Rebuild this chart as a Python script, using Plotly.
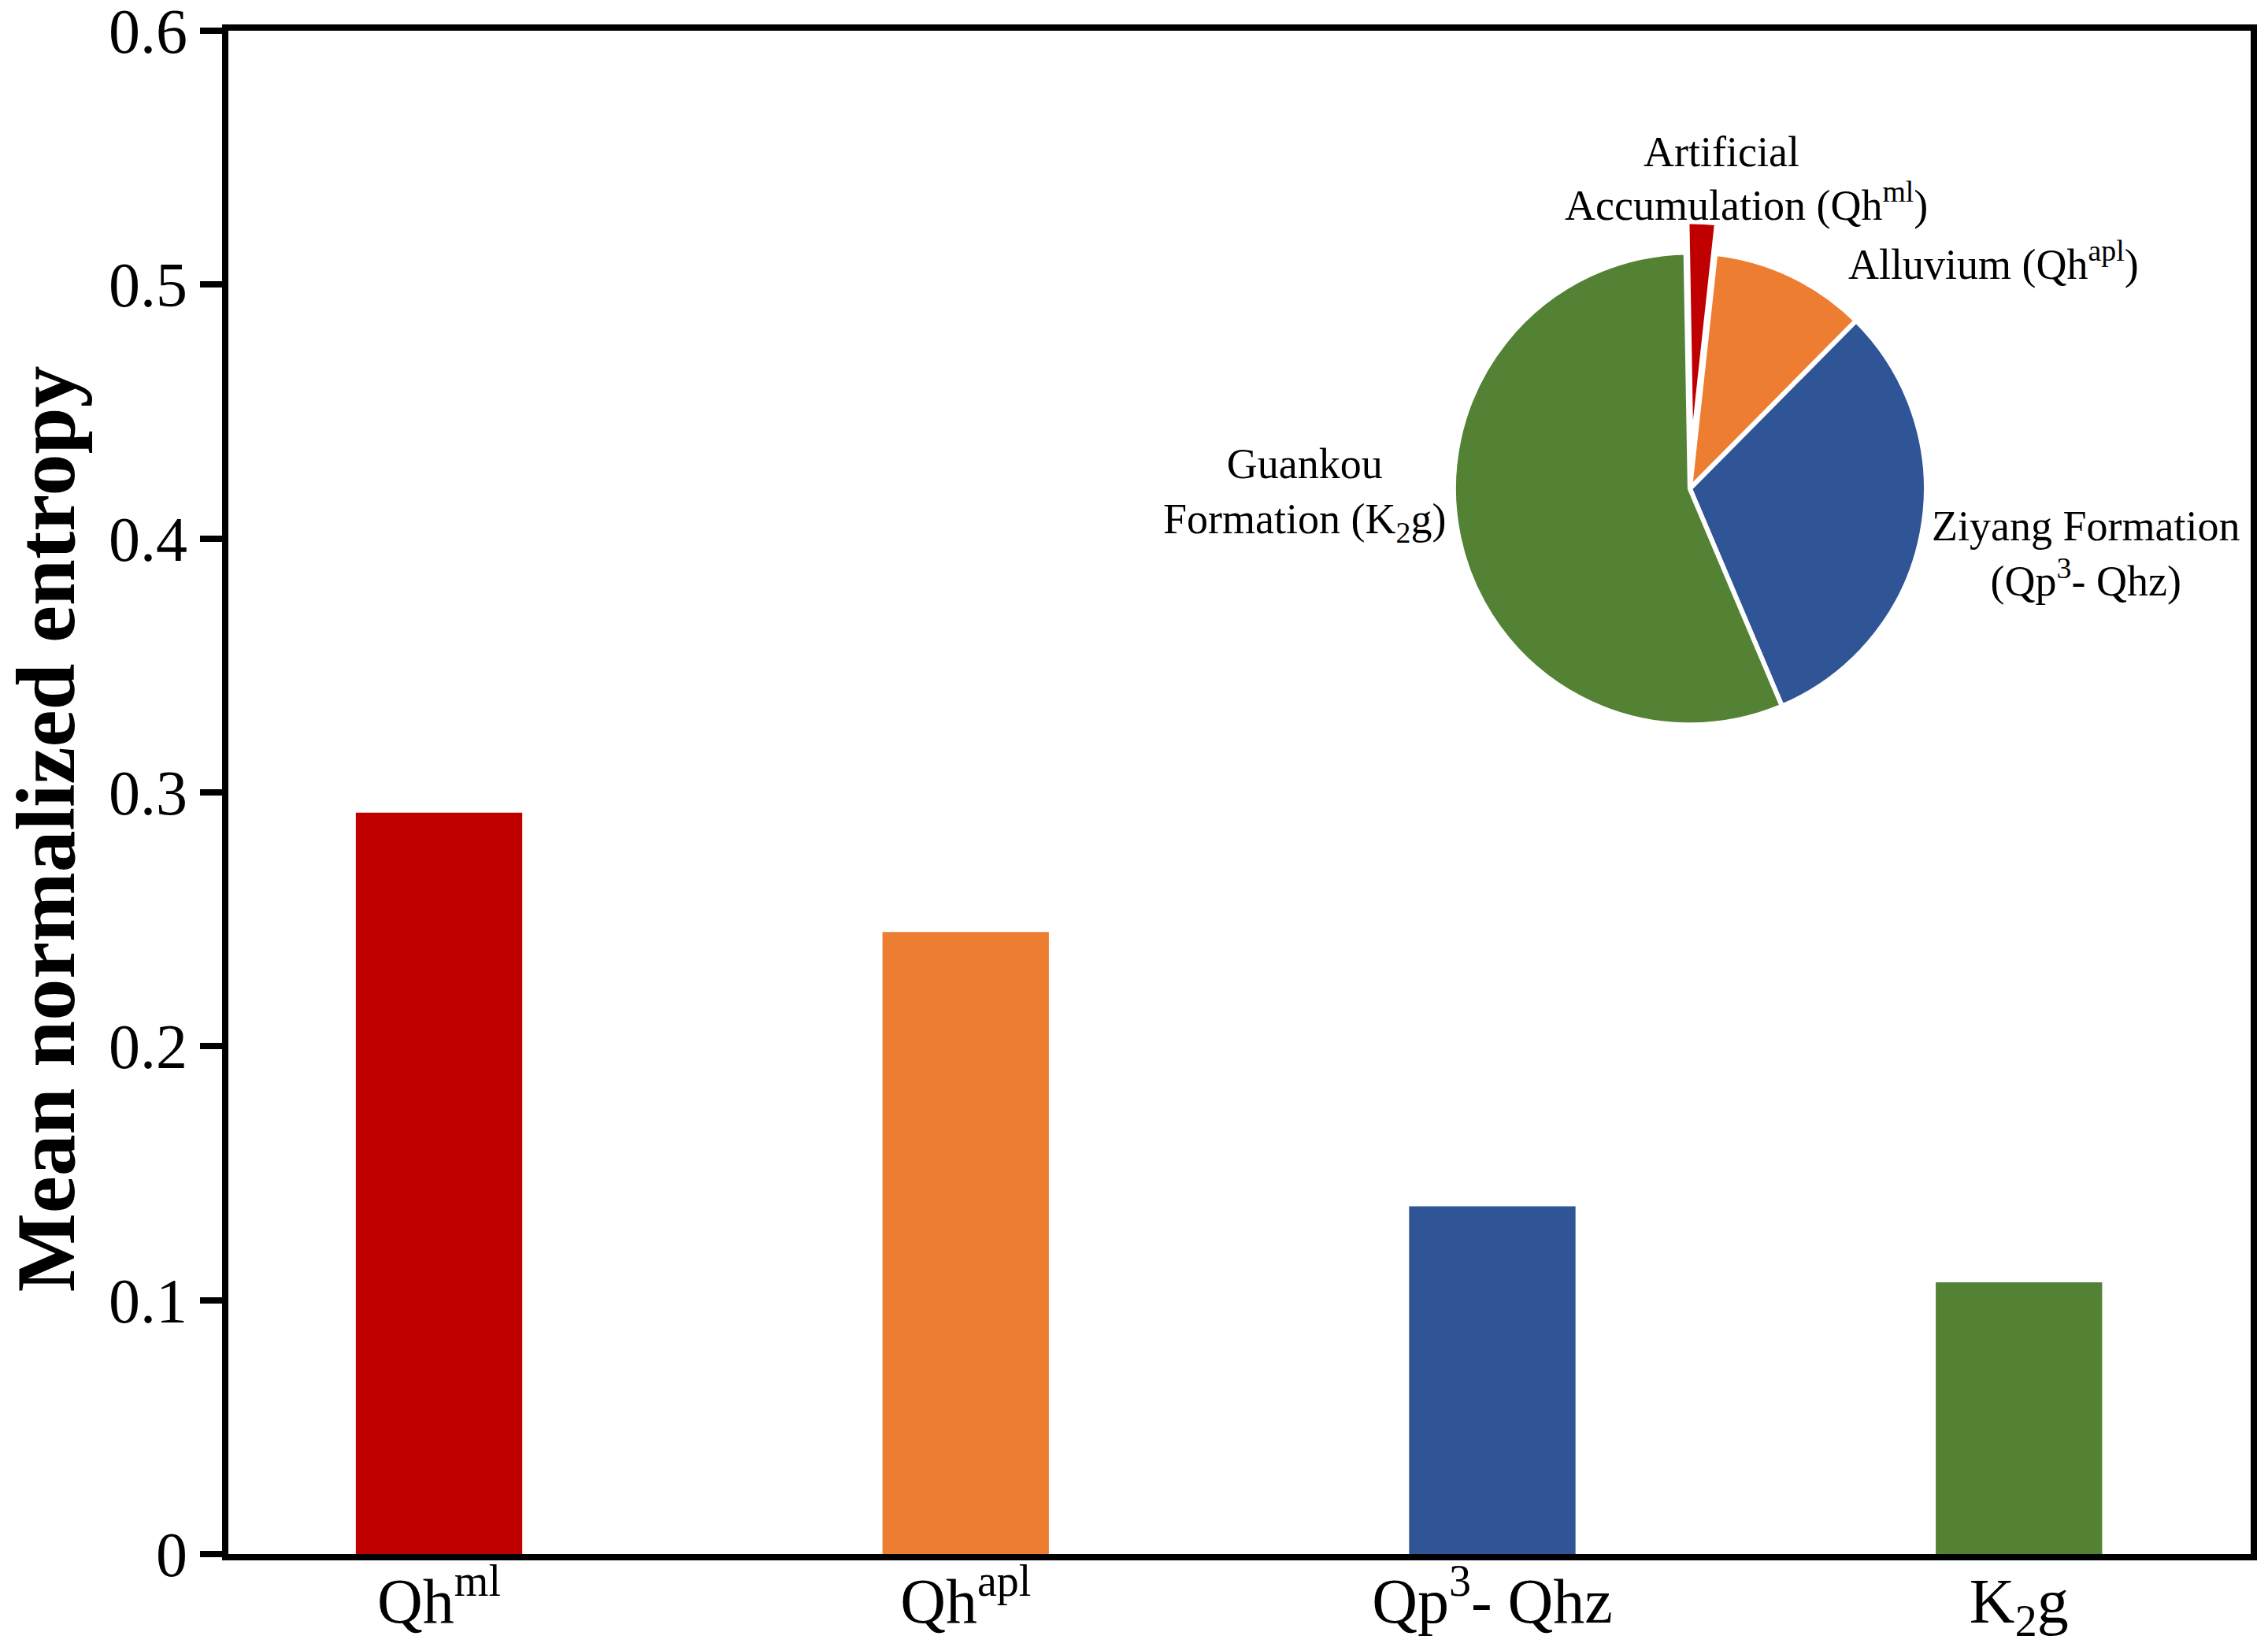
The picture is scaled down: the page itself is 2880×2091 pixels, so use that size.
import plotly.graph_objects as go

# ---- data ----
categories = ["Qh_ml", "Qh_apl", "Qp3_Qhz", "K2g"]
tick_labels = ["Qh<sup>ml</sup>", "Qh<sup>apl</sup>", "Qp<sup>3</sup>- Qhz", "K<sub>2</sub>g"]
entropy_values = [0.292, 0.245, 0.137, 0.107]
bar_colors = ["#C00000", "#ED7D31", "#2F5597", "#548235"]

pie_labels = ["Artificial Accumulation (Qh<sup>ml</sup>)", "Alluvium (Qh<sup>apl</sup>)",
              "Ziyang Formation (Qp<sup>3</sup>- Qhz)", "Guankou Formation (K<sub>2</sub>g)"]
pie_values = [2.0, 10.7, 31.2, 56.1]
pie_pull = [0.13, 0, 0, 0]
pie_annot_text = ["Artificial",
                  "Accumulation (Qh<sup>ml</sup>)",
                  "Alluvium (Qh<sup>apl</sup>)",
                  "Ziyang Formation<br>(Qp<sup>3</sup>- Qhz)",
                  "Guankou<br>Formation (K<sub>2</sub>g)"]
y_ticks = [0, 0.1, 0.2, 0.3, 0.4, 0.5, 0.6]
y_tick_text = ["0", "0.1", "0.2", "0.3", "0.4", "0.5", "0.6"]

FONT = "Liberation Serif, Times New Roman, serif"

fig = go.Figure()
fig.add_trace(go.Bar(
    x=categories, y=entropy_values,
    marker=dict(color=bar_colors, line=dict(width=0)),
    width=0.316, showlegend=False, hoverinfo="skip",
))
fig.add_trace(go.Pie(
    labels=pie_labels, values=pie_values,
    marker=dict(colors=bar_colors, line=dict(color="white", width=6)),
    pull=pie_pull, sort=False, direction="clockwise", rotation=-1,
    textinfo="none", showlegend=False, hoverinfo="skip",
    domain=dict(x=[0.5907, 0.8547], y=[0.5241, 0.8747]),
))

annot_pos = [(0.7383, 0.9204), (0.7504, 0.8873), (0.873, 0.849),
             (0.9186, 0.6567), (0.5323, 0.6955)]
for txt, (ax, ay) in zip(pie_annot_text, annot_pos):
    fig.add_annotation(x=ax, y=ay, xref="paper", yref="paper", text=txt,
                       showarrow=False, xanchor="center", yanchor="middle",
                       align="center", font=dict(family=FONT, size=54, color="black"))

# y-axis title
fig.add_annotation(x=-0.090, y=0.476, xref="paper", yref="paper",
                   text="<b>Mean normalized entropy</b>", textangle=-90,
                   showarrow=False, xanchor="center", yanchor="middle",
                   font=dict(family=FONT, size=106, color="black"))

fig.update_layout(
    width=2872, height=2083,
    margin=dict(l=282, r=22, t=31, b=118, autoexpand=False),
    paper_bgcolor="white", plot_bgcolor="white",
    font=dict(family=FONT, color="black"),
)
fig.update_xaxes(
    type="category", range=[-0.4, 3.44], automargin=False,
    tickmode="array", tickvals=categories, ticktext=tick_labels,
    tickfont=dict(family=FONT, size=80, color="black"),
    ticklabelstandoff=-17,
    showline=True, linecolor="black", linewidth=8, mirror=True,
    ticks="", showgrid=False, zeroline=False,
)
fig.update_yaxes(
    range=[0, 0.6], automargin=False, tickmode="array", tickvals=y_ticks, ticktext=y_tick_text,
    tickfont=dict(family=FONT, size=80, color="black"),
    ticklabeloverflow="allow",
    showline=True, linecolor="black", linewidth=8, mirror=True,
    ticks="outside", ticklen=28, tickwidth=8, tickcolor="black",
    showgrid=False, zeroline=False,
)

fig.write_html("out.html")
